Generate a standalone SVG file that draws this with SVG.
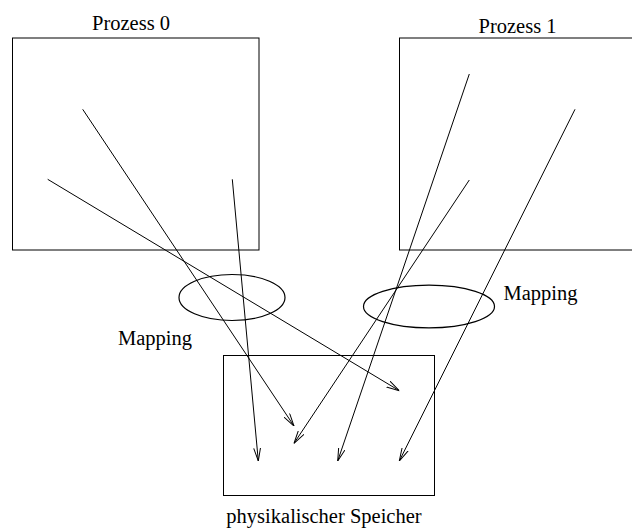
<svg xmlns="http://www.w3.org/2000/svg" width="632" height="529" viewBox="0 0 632 529">
  <style>
    .box { fill: none; stroke: #000; stroke-width: 1; }
    .map { fill: none; stroke: #000; stroke-width: 1.2; }
    .lbl { font-family: "Liberation Serif", "Times New Roman", serif; font-size: 20.5px; fill: #000; }
    .link { fill: none; stroke: #000; stroke-width: 1; marker-end: url(#arrow); }
  </style>
  <defs>
    <marker id="arrow" viewBox="0 0 13 8" refX="13" refY="4" markerWidth="13" markerHeight="8" markerUnits="userSpaceOnUse" orient="auto">
      <path d="M0,0.6 L13,4 L0,7.4" fill="none" stroke="#000" stroke-width="1"/>
    </marker>
  </defs>
  <rect width="632" height="529" fill="#fff"/>

  <g id="prozess0">
    <rect class="box" x="12.5" y="38" width="246.5" height="212"/>
    <text class="lbl" x="131" y="30" text-anchor="middle">Prozess 0</text>
  </g>

  <g id="prozess1">
    <!-- right edge runs off the canvas -->
    <rect class="box" x="399.5" y="38" width="250" height="212"/>
    <text class="lbl" x="517.5" y="33" text-anchor="middle">Prozess 1</text>
  </g>

  <g id="mapping0">
    <ellipse class="map" cx="232" cy="297.5" rx="53" ry="23"/>
    <text class="lbl" x="118" y="345">Mapping</text>
  </g>

  <g id="mapping1">
    <ellipse class="map" cx="429" cy="306.5" rx="65.5" ry="21.3"/>
    <text class="lbl" x="503.5" y="300">Mapping</text>
  </g>

  <g id="speicher">
    <rect class="box" x="223.5" y="355.5" width="211" height="140"/>
    <text class="lbl" x="324" y="523" text-anchor="middle">physikalischer Speicher</text>
  </g>

  <g id="connectors">
    <line class="link" x1="82.7" y1="109.3" x2="294" y2="426"/>
    <line class="link" x1="47.7" y1="179.3" x2="399.3" y2="390.7"/>
    <line class="link" x1="232.3" y1="179.3" x2="258.3" y2="461"/>
    <line class="link" x1="469.3" y1="74" x2="337.7" y2="461"/>
    <line class="link" x1="469.3" y1="180" x2="294" y2="443.3"/>
    <line class="link" x1="575" y1="109.3" x2="399.3" y2="461"/>
  </g>
</svg>
